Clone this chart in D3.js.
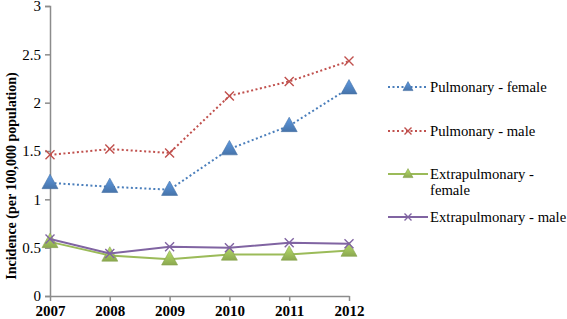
<!DOCTYPE html>
<html>
<head>
<meta charset="utf-8">
<script src="https://cdn.jsdelivr.net/npm/d3@7"></script>
<style>
  body { margin: 0; background: #fff; }
</style>
</head>
<body>
<div id="chart"></div>
<script>
const years = [2007, 2008, 2009, 2010, 2011, 2012];
const pulmFemale = [1.17, 1.13, 1.10, 1.52, 1.76, 2.15];
const pulmMale = [1.46, 1.52, 1.48, 2.07, 2.22, 2.43];
const extraFemale = [0.56, 0.42, 0.38, 0.43, 0.43, 0.47];
const extraMale = [0.59, 0.44, 0.51, 0.50, 0.55, 0.54];
const yTicks = [0, 0.5, 1, 1.5, 2, 2.5, 3];

const series = [
  { label: ['Pulmonary - female'], values: pulmFemale, color: '#4a7ebb', marker: 'tri', fill: '#4f81bd', dash: '2,2.5', width: 2 },
  { label: ['Pulmonary - male'], values: pulmMale, color: '#c0504d', marker: 'x', dash: '2,2.5', width: 2 },
  { label: ['Extrapulmonary -', 'female'], values: extraFemale, color: '#9bbb59', marker: 'tri', fill: '#9bbb59', dash: null, width: 2 },
  { label: ['Extrapulmonary - male'], values: extraMale, color: '#8064a2', marker: 'x', dash: null, width: 2 }
];

const FONT = 'Liberation Serif';
const width = 567, height = 319;
const x = d3.scalePoint().domain(years).range([50, 349]);
const y = d3.scaleLinear().domain([0, 3]).range([296, 6]);

const svg = d3.select('#chart').append('svg').attr('width', width).attr('height', height);

const defs = svg.append('defs');
series.filter(s => s.marker === 'tri').forEach((s, i) => {
  const g = defs.append('linearGradient').attr('id', 'grad' + i).attr('x1', 0).attr('y1', 0).attr('x2', 0).attr('y2', 1);
  g.append('stop').attr('offset', '0%').attr('stop-color', d3.color(s.fill).brighter(0.5));
  g.append('stop').attr('offset', '100%').attr('stop-color', d3.color(s.fill).darker(0.3));
  s.grad = 'url(#grad' + i + ')';
});

// y axis
const axisY = svg.append('g').attr('transform', 'translate(50,0)')
  .call(d3.axisLeft(y).tickValues(yTicks).tickSize(5).tickFormat(d3.format('')));
axisY.select('path').attr('stroke', '#8c8c8c').attr('stroke-width', 1.5);
axisY.selectAll('.tick line').attr('stroke', '#8c8c8c').attr('stroke-width', 1.5);
axisY.selectAll('.tick text').style('font-family', FONT).style('font-size', '15px')
  .attr('fill', '#000').attr('x', -9);

// x axis
const axisX = svg.append('g').attr('transform', 'translate(0,296)')
  .call(d3.axisBottom(x).tickSize(5).tickSizeOuter(0));
axisX.select('path').attr('stroke', '#8c8c8c').attr('stroke-width', 1.5);
axisX.selectAll('.tick line').attr('stroke', '#8c8c8c').attr('stroke-width', 1.5);
axisX.selectAll('.tick text').style('font-family', FONT).style('font-size', '15px')
  .style('font-weight', 'bold').attr('fill', '#000').attr('y', 9);

// y title
svg.append('text')
  .attr('transform', 'translate(16,176) rotate(-90)')
  .attr('text-anchor', 'middle')
  .style('font-family', FONT).style('font-size', '14px').style('font-weight', 'bold')
  .text('Incidence (per 100,000 population)');

const line = d3.line().x((d, i) => x(years[i])).y(d => y(d));

function drawMarker(g, s, size) {
  if (s.marker === 'tri') {
    const h = size * 0.9;
    g.append('path').attr('d', `M0,${-h * 0.6}L${size / 2},${h * 0.4}L${-size / 2},${h * 0.4}Z`)
      .attr('fill', s.grad).attr('stroke', d3.color(s.fill).darker(0.4)).attr('stroke-width', 0.6);
  } else {
    const r = size / 2;
    g.append('path').attr('d', `M${-r},${-r}L${r},${r}M${-r},${r}L${r},${-r}`)
      .attr('stroke', s.color).attr('stroke-width', 1.4).attr('fill', 'none');
  }
}

series.forEach(s => {
  svg.append('path').datum(s.values).attr('d', line)
    .attr('fill', 'none').attr('stroke', s.color).attr('stroke-width', s.width)
    .attr('stroke-dasharray', s.dash);
  s.values.forEach((v, i) => {
    const g = svg.append('g').attr('transform', `translate(${x(years[i])},${y(v)})`);
    drawMarker(g, s, s.marker === 'tri' ? 16 : 9);
  });
});

// legend
const legendY = [87, 131, 174, 217];
series.forEach((s, i) => {
  const g = svg.append('g').attr('transform', `translate(0,${legendY[i]})`);
  g.append('line').attr('x1', 388).attr('x2', 428).attr('y1', 0).attr('y2', 0)
    .attr('stroke', s.color).attr('stroke-width', s.width).attr('stroke-dasharray', s.dash);
  const m = g.append('g').attr('transform', 'translate(408,0)');
  drawMarker(m, s, s.marker === 'tri' ? 10 : 7);
  s.label.forEach((t, j) => {
    g.append('text').attr('x', 430).attr('y', j * 16 + 5)
      .style('font-family', FONT).style('font-size', '14.7px').text(t);
  });
});
</script>
</body>
</html>
